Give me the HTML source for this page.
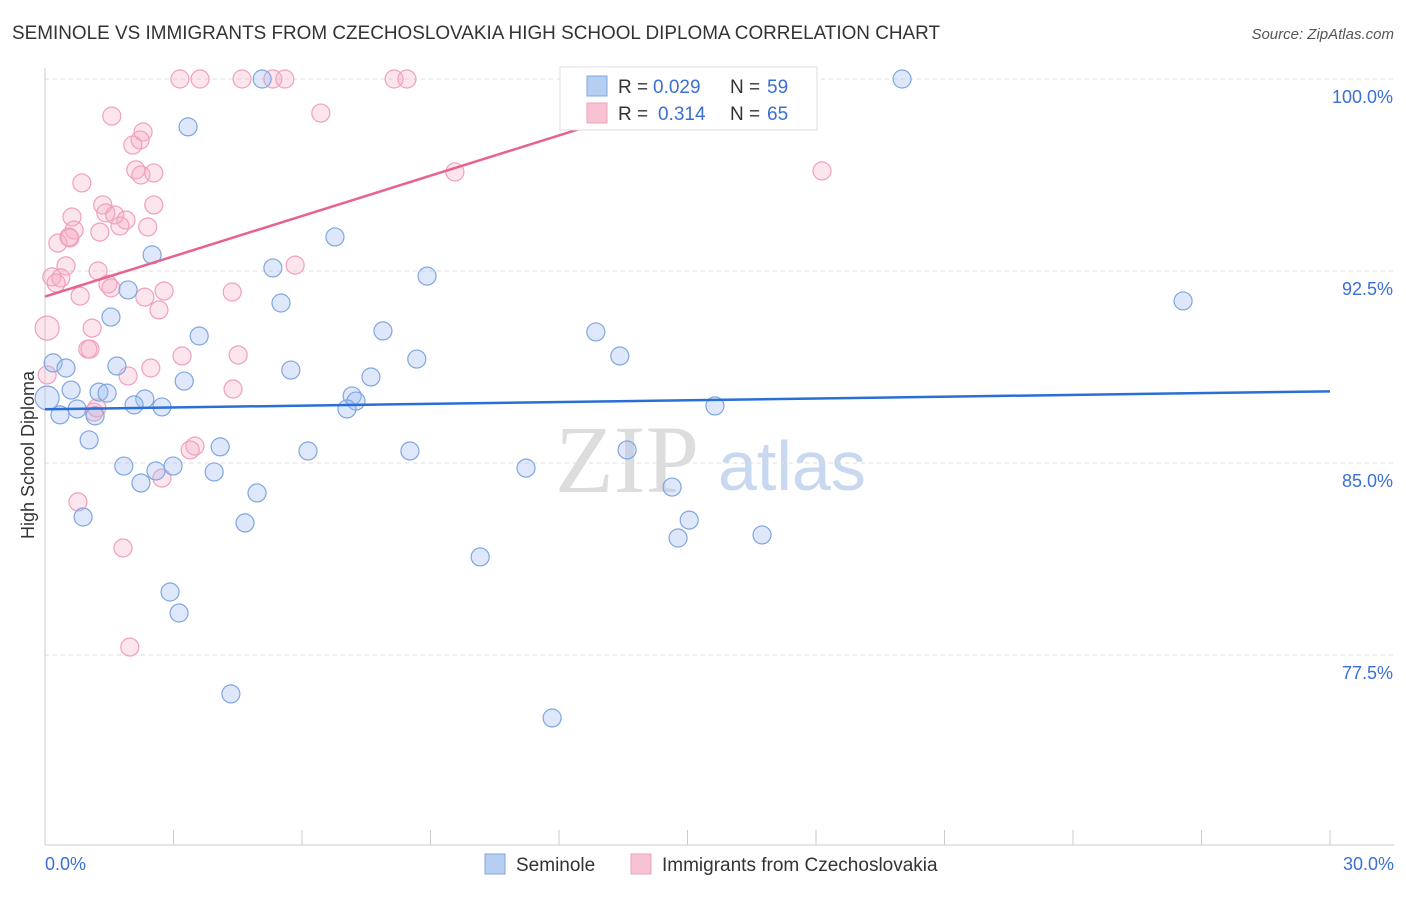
<!DOCTYPE html>
<html><head><meta charset="utf-8"><style>
body{margin:0;background:#fff;font-family:"Liberation Sans",sans-serif}
</style></head><body>
<svg id="c" width="1406" height="892" xmlns="http://www.w3.org/2000/svg">
<text x="12" y="39" font-size="19" fill="#333" textLength="928" lengthAdjust="spacingAndGlyphs">SEMINOLE VS IMMIGRANTS FROM CZECHOSLOVAKIA HIGH SCHOOL DIPLOMA CORRELATION CHART</text>
<text x="1394" y="39" font-size="15" fill="#555" font-style="italic" text-anchor="end">Source: ZipAtlas.com</text>
<text x="34" y="455" font-size="18" fill="#333" text-anchor="middle" transform="rotate(-90 34 455)">High School Diploma</text>
<text x="555" y="492" font-size="96" fill="#ddd" font-family="Liberation Serif">ZIP</text>
<text x="718" y="490" font-size="70" fill="#c8d8f0">atlas</text>
<g id="grid"></g><g id="pts"></g><g id="lines"></g>
<g>
<rect x="560" y="67" width="257" height="63" fill="#fff" stroke="#ddd"/>
<rect x="587" y="76" width="20" height="20" fill="#b7cef3" stroke="#7fa6e0"/>
<text y="93" font-size="19" fill="#333"><tspan x="618">R =</tspan><tspan x="653" fill="#3a6fd8">0.029</tspan><tspan x="730">N =</tspan><tspan x="767" fill="#3a6fd8">59</tspan></text>
<rect x="587" y="103" width="20" height="20" fill="#f7c3d3" stroke="#f0a0bb"/>
<text y="120" font-size="19" fill="#333"><tspan x="618">R =</tspan><tspan x="658" fill="#3a6fd8">0.314</tspan><tspan x="730">N =</tspan><tspan x="767" fill="#3a6fd8">65</tspan></text>
</g>
<g>
<rect x="485" y="854" width="20" height="20" fill="#b7cef3" stroke="#7fa6e0"/>
<text x="516" y="871" font-size="19" fill="#333">Seminole</text>
<rect x="631" y="854" width="20" height="20" fill="#f7c3d3" stroke="#f0a0bb"/>
<text x="662" y="871" font-size="19" fill="#333">Immigrants from Czechoslovakia</text>
</g>
</svg>
<script>
const yTicks=[100,92.5,85,77.5];
const xTickLabels=["0.0%","30.0%"];
const bluePx=[[262,79],[902,79],[188,127],[152,255],[335,237],[273,268],[427,276],[128,290],[281,303],[111,317],[199,336],[383,331],[596,332],[53,363],[66,368],[117,366],[417,359],[620,356],[291,370],[184,381],[371,377],[99,392],[107,393],[71,390],[145,399],[134,405],[162,407],[352,396],[356,401],[347,409],[77,409],[60,415],[95,416],[715,406],[1183,301],[89,440],[220,447],[308,451],[410,451],[627,450],[124,466],[173,466],[156,471],[214,472],[526,468],[141,483],[257,493],[672,487],[83,517],[245,523],[689,520],[678,538],[762,535],[480,557],[170,592],[179,613],[231,694],[552,718],[47,398]];
const pinkPx=[[180,79],[200,79],[242,79],[273,79],[285,79],[394,79],[407,79],[112,116],[321,113],[143,132],[140,140],[133,145],[136,170],[141,175],[154,173],[455,172],[822,171],[82,183],[103,205],[154,205],[106,213],[115,215],[126,220],[72,217],[148,227],[120,226],[74,230],[100,232],[69,237],[58,243],[70,238],[295,265],[66,266],[98,271],[52,277],[61,278],[56,283],[108,284],[111,288],[80,296],[164,291],[145,297],[232,292],[159,310],[92,328],[47,328],[88,349],[90,349],[182,356],[238,355],[151,368],[128,376],[47,375],[233,389],[97,408],[94,412],[195,446],[190,450],[162,478],[78,502],[123,548],[130,647]];
const blueX=bluePx.map(p=>+((p[0]-45)/1285*30).toFixed(2));
const blueY=bluePx.map(p=>+(100-(p[1]-79)/25.6).toFixed(2));
const pinkX=pinkPx.map(p=>+((p[0]-45)/1285*30).toFixed(2));
const pinkY=pinkPx.map(p=>+(100-(p[1]-79)/25.6).toFixed(2));
const blueTrend=[87.1,87.8];
const pinkTrend=[91.5,100,16.2];
const sx=v=>45+v/30*1285, sy=v=>79+(100-v)*25.6;
const NS="http://www.w3.org/2000/svg";
function mk(t,a,parent){const e=document.createElementNS(NS,t);for(const k in a)e.setAttribute(k,a[k]);document.getElementById(parent).appendChild(e);return e;}
yTicks.forEach(t=>{
 const l=mk('line',{x1:45,x2:1394,y1:sy(t),y2:sy(t),stroke:'#ddd','stroke-dasharray':'4 4'},'grid');
 
 
 const tx=mk('text',{x:1393,y:sy(t)+24,'font-size':18,fill:'#3a6fd8','text-anchor':'end'},'grid');
 tx.textContent=t.toFixed(1)+'%';
 
 
});
const ax=mk('line',{x1:45,x2:45,y1:68,y2:845,stroke:'#ccc'},'grid');


const bx=mk('line',{x1:45,x2:1394,y1:845,y2:845,stroke:'#ccc'},'grid');


for(let i=0;i<=10;i++){const t=mk('line',{x1:sx(i*3),x2:sx(i*3),y1:830,y2:845,stroke:'#ccc'},'grid');
 
 }
[[0,'start',45],[1,'end',1394]].forEach(([i,a,x])=>{const t=mk('text',{x:x,y:870,'font-size':18,fill:'#3a6fd8','text-anchor':a},'grid');t.textContent=xTickLabels[i];
 
 });
pinkX.forEach((x,i)=>{const c=mk('circle',{cx:sx(x),cy:sy(pinkY[i]),r:(i==45?12:9),fill:'rgba(245,170,195,0.3)',stroke:'#f0a0bb','stroke-width':1.2},'pts');
 
 });
blueX.forEach((x,i)=>{const c=mk('circle',{cx:sx(x),cy:sy(blueY[i]),r:(i==58?12:9),fill:'rgba(160,190,240,0.35)',stroke:'#7fa6e0','stroke-width':1.2},'pts');
 
 });
const bl=mk('line',{x1:sx(0),y1:sy(blueTrend[0]),x2:sx(30),y2:sy(blueTrend[1]),stroke:'#2a6fd6','stroke-width':2.5},'lines');


const pl=mk('line',{x1:sx(0),y1:sy(pinkTrend[0]),x2:sx(pinkTrend[2]),y2:sy(pinkTrend[1]),stroke:'#e8628e','stroke-width':2.5},'lines');


</script>
</body></html>
